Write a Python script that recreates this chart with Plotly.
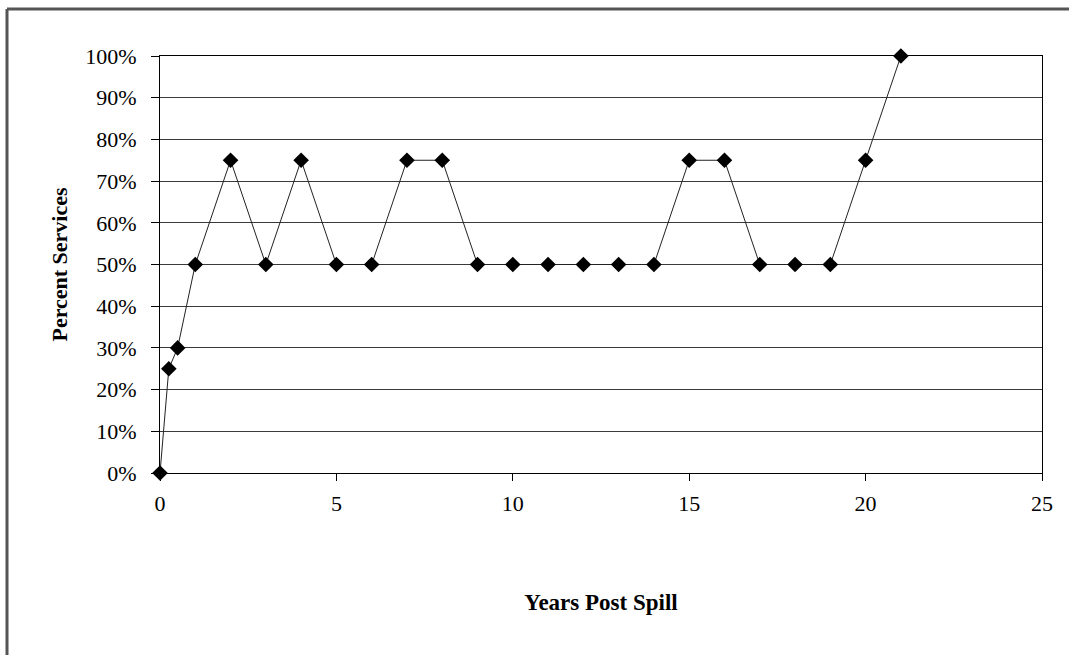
import plotly.graph_objects as go

years = [0, 0.25, 0.5, 1, 2, 3, 4, 5, 6, 7, 8, 9, 10, 11, 12, 13, 14, 15, 16, 17, 18, 19, 20, 21]
percent = [0, 0.25, 0.30, 0.50, 0.75, 0.50, 0.75, 0.50, 0.50, 0.75, 0.75, 0.50, 0.50, 0.50, 0.50, 0.50,
           0.50, 0.75, 0.75, 0.50, 0.50, 0.50, 0.75, 1.00]
x_ticks = [0, 5, 10, 15, 20, 25]
y_ticks = [i / 10 for i in range(11)]
y_tick_labels = [f"{i * 10}%" for i in range(11)]

W, H = 1069, 655
L, R, T, B = 160, 1042, 56, 473
pw, ph = R - L, B - T

def px(x):
    return (x - L) / pw

def py(y):
    return (B - y) / ph

font = "Liberation Serif, Times New Roman, serif"

fig = go.Figure()
fig.add_trace(go.Scatter(
    x=years, y=percent, mode="lines+markers",
    line=dict(color="#222222", width=1),
    marker=dict(symbol="diamond", size=12, color="black"),
    showlegend=False, cliponaxis=False,
))

fig.update_layout(
    width=W, height=H,
    margin=dict(l=L, r=W - R, t=T, b=H - B, pad=0),
    paper_bgcolor="white", plot_bgcolor="white",
    font=dict(family=font, color="black", size=22),
    xaxis=dict(
        range=[0, 25], tickvals=x_ticks, ticktext=[str(v) for v in x_ticks],
        showgrid=False, zeroline=False,
        showline=True, linecolor="black", linewidth=1, mirror=True,
        ticks="outside", ticklen=7, tickcolor="black", tickwidth=1,
        ticklabelstandoff=4,
        tickfont=dict(size=22, family=font),
        title=dict(text="<b>Years Post Spill</b>", font=dict(size=23, family=font), standoff=78),
    ),
    yaxis=dict(
        range=[0, 1], tickvals=y_ticks, ticktext=y_tick_labels,
        showgrid=True, gridcolor="#3a3a3a", gridwidth=1, zeroline=False,
        showline=True, linecolor="black", linewidth=1, mirror=True,
        ticks="outside", ticklen=8, tickcolor="black", tickwidth=1,
        ticklabelstandoff=10,
        tickfont=dict(size=22, family=font),
        title=dict(text="<b>Percent Services</b>", font=dict(size=22, family=font), standoff=11),
    ),
    shapes=[
        dict(type="line", xref="paper", yref="paper",
             x0=px(7), x1=px(7), y0=py(H), y1=py(9),
             line=dict(color="#555555", width=3)),
        dict(type="line", xref="paper", yref="paper",
             x0=px(7), x1=px(W), y0=py(9), y1=py(9),
             line=dict(color="#555555", width=3)),
    ],
)

fig.write_html("out.html", config={"displayModeBar": False},
               post_script="document.body.style.margin='0';document.body.style.overflow='hidden';")
